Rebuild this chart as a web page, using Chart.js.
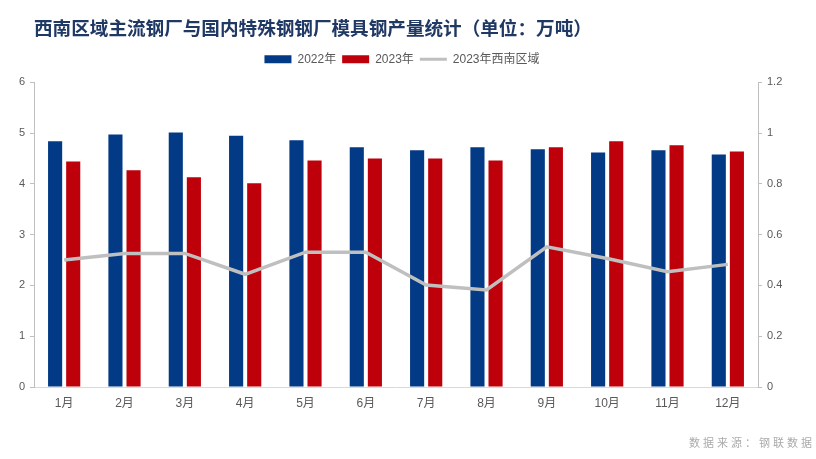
<!DOCTYPE html>
<html>
<head>
<meta charset="utf-8">
<script src="https://cdn.jsdelivr.net/npm/chart.js@4/dist/chart.umd.min.js"></script>
<style>
  html, body { margin: 0; padding: 0; background: #ffffff; }
  #wrap { width: 816px; height: 459px; }
</style>
</head>
<body>
<div id="wrap"><canvas id="c" width="816" height="459"></canvas></div>
<script>
const categories = ['1月','2月','3月','4月','5月','6月','7月','8月','9月','10月','11月','12月'];
const seriesNames = ['2022年', '2023年', '2023年西南区域'];
const values2022 = [4.84, 4.97, 5.01, 4.95, 4.86, 4.72, 4.66, 4.72, 4.68, 4.62, 4.66, 4.58];
const values2023 = [4.44, 4.27, 4.13, 4.01, 4.46, 4.50, 4.50, 4.46, 4.72, 4.84, 4.76, 4.64];
const southwest2023 = [0.50, 0.526, 0.526, 0.444, 0.531, 0.531, 0.402, 0.382, 0.552, 0.506, 0.454, 0.483];
const leftTicks = [0, 1, 2, 3, 4, 5, 6];
const rightTicks = [0, 0.2, 0.4, 0.6, 0.8, 1, 1.2];
const titleText = '西南区域主流钢厂与国内特殊钢钢厂模具钢产量统计（单位：万吨）';
const sourceText = '数据来源：钢联数据';

const BLUE = '#023A86';
const RED = '#BE000A';
const GREY = '#BFBFBF';
const TEXT = '#595959';
const FONT = '"Liberation Sans", "Noto Sans CJK SC", sans-serif';

const footerPlugin = {
  id: 'footerText',
  afterDraw(chart) {
    const ctx = chart.ctx;
    ctx.save();
    ctx.font = '11px "Noto Sans CJK SC", sans-serif';
    ctx.fillStyle = '#ABABAB';
    ctx.textAlign = 'left';
    ctx.textBaseline = 'middle';
    try { ctx.letterSpacing = '3px'; } catch (e) {}
    ctx.fillText(sourceText, 689, 443);
    ctx.restore();
  }
};

new Chart(document.getElementById('c'), {
  type: 'bar',
  data: {
    labels: categories,
    datasets: [
      {
        type: 'line',
        label: seriesNames[2],
        data: southwest2023,
        yAxisID: 'y1',
        xAxisID: 'x',
        borderColor: GREY,
        backgroundColor: GREY,
        borderWidth: 3.5,
        pointRadius: 0,
        tension: 0,
        order: 0
      },
      {
        label: seriesNames[0],
        data: values2022,
        yAxisID: 'y',
        xAxisID: 'x',
        backgroundColor: BLUE,
        categoryPercentage: 0.6,
        barPercentage: 0.78,
        order: 1
      },
      {
        label: seriesNames[1],
        data: values2023,
        yAxisID: 'y',
        xAxisID: 'x',
        backgroundColor: RED,
        categoryPercentage: 0.6,
        barPercentage: 0.78,
        order: 2
      }
    ]
  },
  options: {
    responsive: false,
    animation: false,
    devicePixelRatio: 1,
    layout: { padding: { left: 0, right: 12, top: 0, bottom: 0 } },
    plugins: {
      tooltip: { enabled: false },
      title: {
        display: true,
        fullSize: false,
        text: titleText,
        align: 'start',
        color: '#1F3864',
        font: { family: '"Noto Sans CJK SC", sans-serif', size: 18.6, weight: 'bold' },
        padding: { top: 17, bottom: 8 }
      },
      legend: {
        display: true,
        position: 'top',
        fullSize: true,
        labels: {
          usePointStyle: true,
          pointStyleWidth: 27,
          boxHeight: 8,
          padding: 6,
          color: TEXT,
          font: { family: FONT, size: 12 },
          generateLabels(chart) {
            const ds = chart.data.datasets;
            return [
              { text: ds[1].label, fillStyle: BLUE, strokeStyle: BLUE, lineWidth: 0, pointStyle: 'rect', datasetIndex: 1, hidden: false, fontColor: TEXT },
              { text: ds[2].label, fillStyle: RED, strokeStyle: RED, lineWidth: 0, pointStyle: 'rect', datasetIndex: 2, hidden: false, fontColor: TEXT },
              { text: ds[0].label, fillStyle: GREY, strokeStyle: GREY, lineWidth: 3, pointStyle: 'line', datasetIndex: 0, hidden: false, fontColor: TEXT }
            ];
          }
        }
      }
    },
    scales: {
      x: {
        type: 'category',
        position: 'bottom',
        offset: true,
        grid: { display: true, drawOnChartArea: false, drawTicks: false },
        border: { display: true, color: '#D9D9D9', width: 1 },
        ticks: { color: TEXT, font: { family: FONT, size: 12 }, padding: 9, maxRotation: 0, autoSkip: false },
        afterFit(s) { s.height = 72; }
      },
      xTop: {
        type: 'category',
        axis: 'x',
        position: 'top',
        display: true,
        grid: { display: false },
        border: { display: false },
        ticks: { display: false },
        afterFit(s) { s.height = 7; }
      },
      y: {
        type: 'linear',
        position: 'left',
        min: 0,
        max: 6,
        afterBuildTicks(s) { s.ticks = leftTicks.map(v => ({ value: v })); },
        grid: { display: true, drawOnChartArea: false, drawTicks: true, tickLength: 4, color: GREY },
        border: { display: true, color: GREY, width: 1 },
        ticks: { color: TEXT, font: { family: FONT, size: 11 }, padding: 5, callback: v => String(v) },
        afterFit(s) { s.width = 34; }
      },
      y1: {
        type: 'linear',
        position: 'right',
        min: 0,
        max: 1.2,
        afterBuildTicks(s) { s.ticks = rightTicks.map(v => ({ value: v })); },
        grid: { display: true, drawOnChartArea: false, drawTicks: true, tickLength: 4, color: GREY },
        border: { display: true, color: GREY, width: 1 },
        ticks: { color: TEXT, font: { family: FONT, size: 11 }, padding: 5, callback: v => String(+(+v).toFixed(1)) },
        afterFit(s) { s.width = 46; }
      }
    }
  },
  plugins: [footerPlugin]
});
</script>
</body>
</html>
